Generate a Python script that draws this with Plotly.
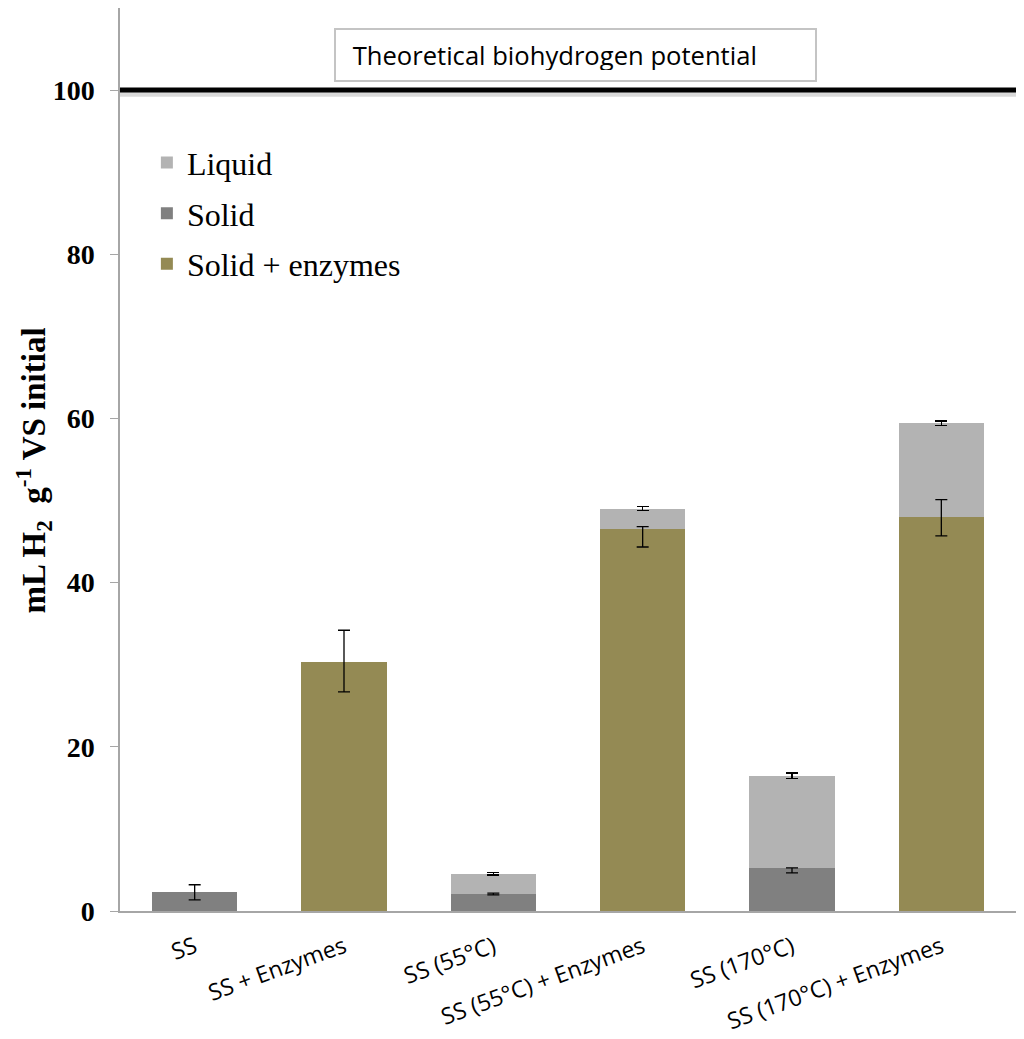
import plotly.graph_objects as go

categories = ["SS", "SS + Enzymes", "SS (55°C)", "SS (55°C) + Enzymes", "SS (170°C)", "SS (170°C) + Enzymes"]

solid = [2.35, None, 2.07, None, 5.2, None]
solid_err_plus = [0.85, None, 0.1, None, 0.05, None]
solid_err_minus = [1.0, None, 0.1, None, 0.55, None]

solid_enz = [None, 30.3, None, 46.5, None, 48.0]
solid_enz_err_plus = [None, 3.9, None, 0.33, None, 2.1]
solid_enz_err_minus = [None, 3.6, None, 2.16, None, 2.3]

liquid = [None, None, 2.48, 2.5, 11.26, 11.4]
liquid_err = [None, None, 0.17, 0.25, 0.35, 0.3]

theoretical = 100
theoretical_label = "Theoretical biohydrogen potential"
y_title = "<b>mL H<sub>2</sub>  g<sup>-1</sup> VS initial</b>"

y_ticks = [0, 20, 40, 60, 80, 100]

err_style = dict(type="data", symmetric=False, color="black", thickness=1.3, width=6)

fig = go.Figure()
fig.add_trace(go.Bar(
    x=categories, y=solid_enz, name="Solid + enzymes", legendgroup="c", legendrank=3,
    marker=dict(color="#948A54", line=dict(width=0)),
))
fig.add_trace(go.Bar(
    x=categories, y=solid, name="Solid", legendgroup="b", legendrank=2,
    marker=dict(color="#808080", line=dict(width=0)),
))
fig.add_trace(go.Bar(
    x=categories, y=liquid, name="Liquid", legendgroup="a", legendrank=1,
    marker=dict(color="#B3B3B3", line=dict(width=0)),
    error_y=dict(type="data", array=liquid_err, color="black", thickness=1.3, width=6),
))

# error bars of the lower segments drawn on top of the stacked bars
fig.add_trace(go.Scatter(
    x=categories, y=solid_enz, mode="markers", showlegend=False, hoverinfo="skip",
    marker=dict(size=1, color="rgba(0,0,0,0)"),
    error_y=dict(array=solid_enz_err_plus, arrayminus=solid_enz_err_minus, **err_style),
))
fig.add_trace(go.Scatter(
    x=categories, y=solid, mode="markers", showlegend=False, hoverinfo="skip",
    marker=dict(size=1, color="rgba(0,0,0,0)"),
    error_y=dict(array=solid_err_plus, arrayminus=solid_err_minus, **err_style),
))

# theoretical line with soft shadow
fig.add_shape(type="line", xref="paper", yref="y", x0=0, x1=1.01, y0=theoretical - 0.5, y1=theoretical - 0.5,
              line=dict(color="rgba(0,0,0,0.15)", width=5), layer="above")
fig.add_shape(type="line", xref="paper", yref="y", x0=0, x1=1.01, y0=theoretical, y1=theoretical,
              line=dict(color="black", width=5), layer="above")

fig.add_annotation(
    text="&nbsp;" + theoretical_label, xref="paper", yref="y", x=0.5084, y=104.3,
    showarrow=False, align="left", width=459, height=30,
    font=dict(family="Open Sans", size=25.6, color="black"),
    bordercolor="#C4C4C4", borderwidth=2, borderpad=10, bgcolor="white",
)

# y-axis title
fig.add_annotation(
    text=y_title, xref="paper", yref="paper", x=-0.097, y=0.488,
    xanchor="center", yanchor="middle", showarrow=False, textangle=-90,
    font=dict(family="Liberation Serif", size=33, color="black"),
)

fig.update_layout(
    width=1024, height=1039,
    margin=dict(l=112, r=16, t=0, b=136),
    barmode="stack", bargap=0.43,
    plot_bgcolor="white", paper_bgcolor="white",
    showlegend=True,
    legend=dict(
        x=0.03, y=0.859, xanchor="left", yanchor="top",
        traceorder="grouped", tracegroupgap=6,
        font=dict(family="Liberation Serif", size=32, color="black"),
        bgcolor="rgba(0,0,0,0)",
    ),
    xaxis=dict(
        showline=True, linecolor="#A6A6A6", linewidth=1.5,
        ticks="", tickangle=-20, automargin=False, ticklabelstandoff=12,
        tickfont=dict(family="Open Sans", size=23, color="black"),
        showgrid=False,
    ),
    yaxis=dict(
        range=[0, 110], tickvals=y_ticks, automargin=False,
        showline=True, linecolor="#A6A6A6", linewidth=1.5,
        ticks="outside", ticklen=8, tickcolor="#A6A6A6",
        tickfont=dict(family="Liberation Serif", size=28, color="black", weight="bold"),
        ticklabelstandoff=10,
        showgrid=False, zeroline=False,
    ),
)

fig.write_html("out.html")
